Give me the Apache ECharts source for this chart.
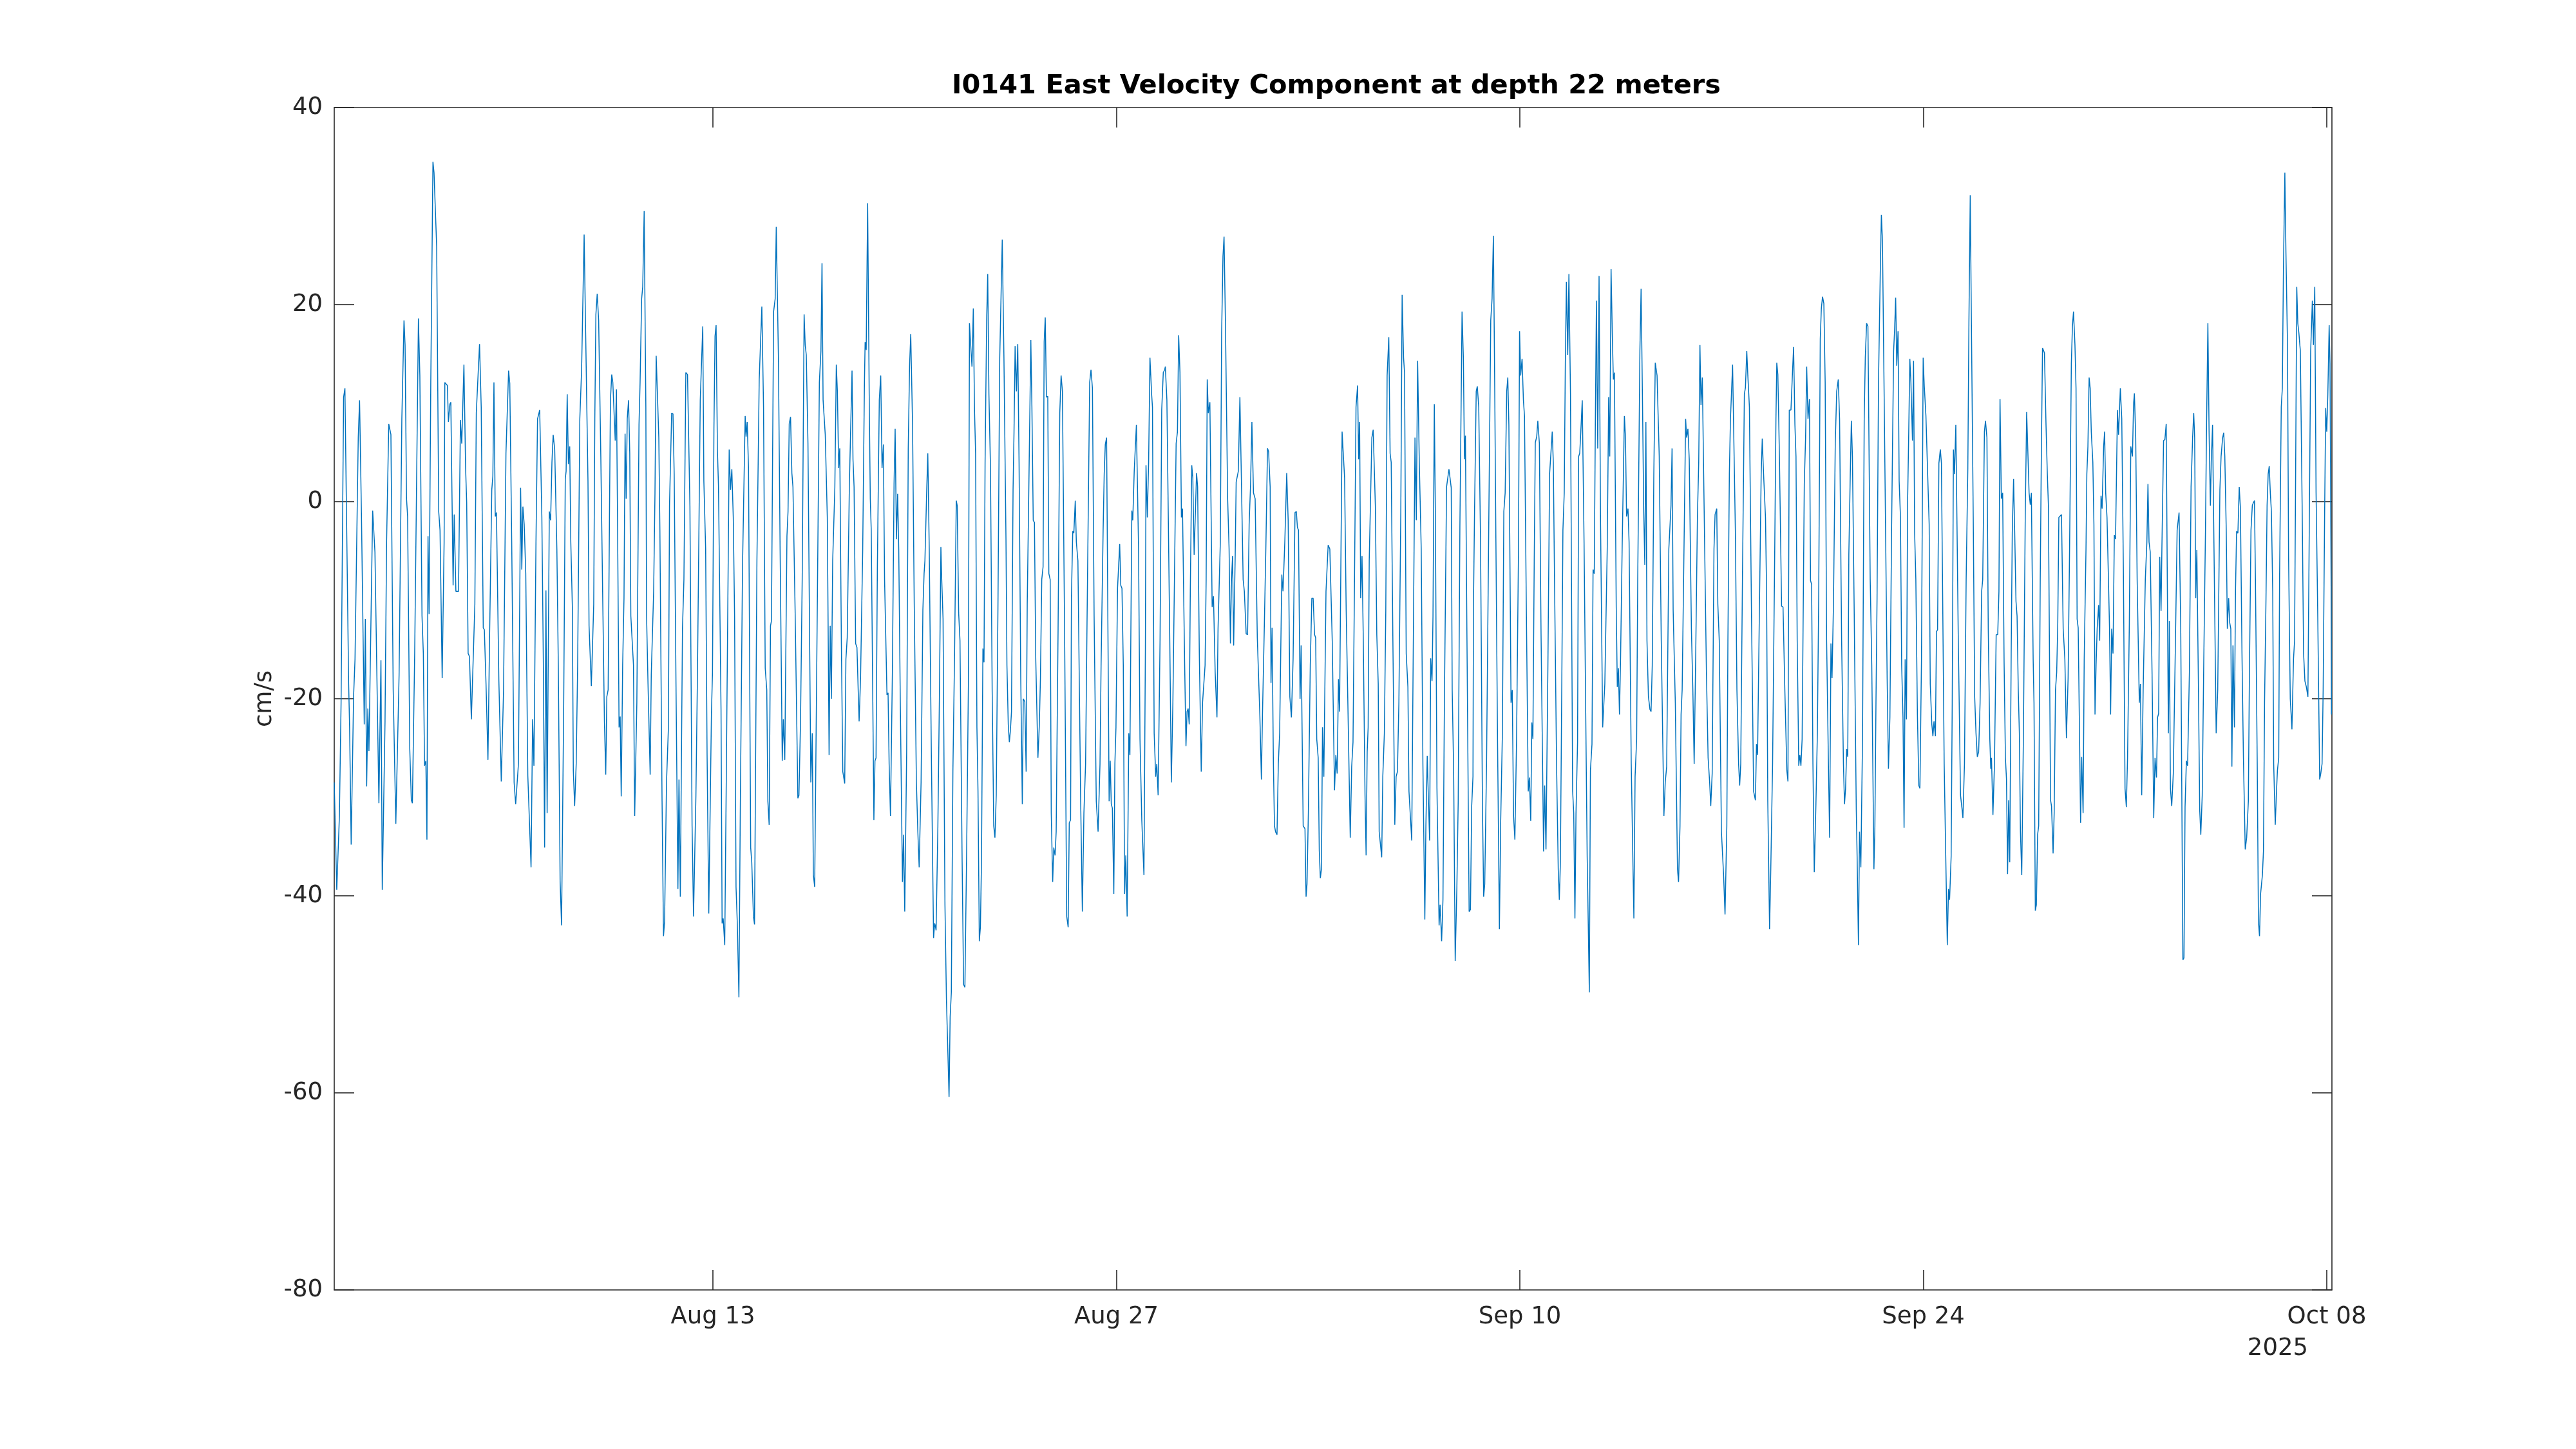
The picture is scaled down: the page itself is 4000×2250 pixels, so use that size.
<!DOCTYPE html>
<html>
<head>
<meta charset="utf-8">
<script src="https://cdn.jsdelivr.net/npm/echarts@6.0.0/dist/echarts.min.js"></script>
<style>
  html, body { margin: 0; padding: 0; background: #ffffff; }
  #main { width: 4000px; height: 2250px; }
</style>
</head>
<body>
<div id="main"></div>
<script>
// ---------------- DATA ----------------
const chartTitle = 'I0141 East Velocity Component at depth 22 meters';
const yAxisName = 'cm/s';
const yTickValues = [-80, -60, -40, -20, 0, 20, 40];
const xTickDates = ['2025-08-13', '2025-08-27', '2025-09-10', '2025-09-24', '2025-10-08'];
const xTickLabels = ['Aug 13', 'Aug 27', 'Sep 10', 'Sep 24', 'Oct 08'];
const yearLabel = '2025';
// record start (UTC) and span in hours
const recordStartUTC = '2025-07-30T20:41:00Z';
const recordSpanHours = 1663.6;
// [hours since record start, east velocity in cm/s]
const eastVelocitySamples = [
[0.0,-28.5],[2.1,-39.4],[4.3,-31.9],[5.7,-20.4],[7.8,10.6],[8.9,11.5],[12.0,-18.5],[12.8,-22.9],[14.1,-34.8],[16.1,-19.8],[17.3,-16],[20.0,6.5],[21.1,10.3],[22.7,-1.6],[25.0,-22.6],[25.9,-11.9],[27.0,-28.9],[28.0,-21],[28.9,-25.3],[32.0,-0.9],[33.9,-5.1],[37.2,-30.6],[38.9,-16.1],[40.0,-39.4],[42.3,-22.3],[43.6,-4.1],[45.4,7.9],[46.3,7.9],[47.2,6.8],[49.1,-19.1],[51.3,-32.7],[54.0,-17.6],[56.3,8.4],[58.1,18.4],[59.0,15.9],[60.2,0.3],[61.1,-1.5],[62.9,-25.1],[64.2,-30.3],[65.1,-30.6],[67.0,-15.4],[70.1,18.6],[71.3,12.8],[73.1,-11.6],[74.2,-15.4],[75.2,-26.8],[76.3,-26.3],[77.2,-34.3],[78.1,-3.5],[79.0,-11.4],[80.4,12.1],[82.2,34.5],[83.1,33.4],[85.3,25.9],[87.0,-1],[88.1,-2.9],[89.9,-17.9],[91.5,-4.1],[92.1,12.1],[94.2,11.8],[95.1,8.1],[96.3,9.9],[97.1,10.1],[99.0,-8.5],[99.9,-1.3],[101.3,-9.1],[103.5,-9.1],[105.1,8.3],[106.2,5.9],[108.0,13.9],[109.4,3.4],[110.3,-0.1],[111.5,-15.4],[112.6,-15.7],[114.2,-22.1],[117.1,-10.4],[118.3,9],[121.0,16],[122.4,9.6],[124.1,-12.8],[125.0,-13],[126.4,-18.5],[128.0,-26.2],[129.4,-13.5],[131.2,1.2],[132.1,2.6],[133.0,12.1],[134.1,-1.5],[135.1,-1.1],[137.1,-18.2],[139.1,-28.4],[141.0,-19.1],[143.0,4.9],[145.2,13.3],[146.2,12],[147.8,-4.1],[149.8,-28.5],[151.1,-30.7],[153.4,-26.6],[155.2,1.4],[156.2,-6.9],[157.1,-0.5],[158.2,-2.3],[159.5,-7.3],[161.2,-27.8],[163.9,-37.1],[165.2,-22.1],[166.3,-26.8],[168.0,-4.1],[169.3,8.4],[171.1,9.3],[172.9,-1.6],[174.1,-16],[175.2,-35.1],[176.3,-9],[177.3,-31.6],[179.1,-1],[180.2,-1.9],[181.3,4],[182.3,6.8],[183.6,5.3],[185.4,-4.8],[186.6,-16.6],[188.1,-38.5],[189.3,-43],[191.1,-20.4],[192.4,2.3],[193.1,3.1],[194.0,10.9],[195.0,3.8],[196.1,5.6],[197.0,-4.1],[198.3,-10.7],[199.1,-27.3],[200.2,-30.9],[201.5,-26.6],[202.7,-16.6],[204.5,8.4],[206.0,13.4],[208.1,27.1],
[211.3,2.1],[212.2,-12.6],[213.1,-12.7],[214.1,-18.7],[216.1,-10.4],[217.0,8.4],[217.9,19],[219.0,21.1],[220.2,18.4],[222.0,4.6],[223.8,-11.6],[225.0,-22.3],[226.1,-27.7],[227.0,-19.8],[228.1,-19.1],[229.2,-1.6],[230.0,10.3],[231.1,12.9],[232.0,12.1],[234.0,6.2],[235.0,11.4],[235.9,-1.6],[237.2,-22.9],[238.1,-21.8],[239.0,-29.9],[240.2,-16.6],[241.3,-9.8],[242.2,6.9],[243.1,0.3],[244.0,8.4],[245.1,10.3],[246.1,4.9],[247.0,-11.6],[249.2,-16.6],[250.2,-31.9],[252.0,-20.4],[253.8,7.8],[254.7,12.1],[256.0,20.6],[256.9,21.8],[258.1,29.5],[259.5,9.6],[260.1,-11.6],[261.3,-18.5],[263.1,-27.7],[264.0,-17.6],[266.0,-9.1],[267.1,0.9],[268.1,14.8],[270.3,6.5],[271.2,-2.9],[273.0,-30.4],[274.2,-44.1],[275.1,-42.6],[276.7,-28.5],[278.3,-22.9],[279.2,-0.4],[281.0,9],[282.1,8.9],[283.1,2.8],[284.6,-18.5],[286.2,-39.3],[287.1,-28.2],[288.2,-40.1],[290.0,-12.9],[291.2,-7.9],[292.8,13.1],[294.2,12.9],[296.2,-0.4],[298.0,-32.9],[299.2,-42.1],[301.2,-29.8],[302.5,-17.3],[304.8,10.3],[306.9,17.8],[307.8,2.1],[309.3,-4.8],[310.5,-25.7],[311.9,-41.8],[314.1,-21.6],[315.0,-17.3],[316.2,7.4],[317.1,16.8],[318.0,17.9],[319.1,5.3],[320.0,1.5],[322.1,-21],[323.0,-42.8],[323.9,-42.3],[325.2,-45],[326.6,-26.6],[328.9,5.3],[330.0,1.2],[331.1,3.3],[332.3,-1.6],[333.4,-11.6],[334.6,-39.1],[335.7,-42.9],[337.0,-50.3],[338.2,-30.4],[340.0,-6.6],[342.2,8.7],[343.0,6.6],[343.9,8.1],[345.0,3.4],[346.8,-35.1],[347.7,-36.6],[349.1,-42.1],[350.0,-42.9],[352.0,-6],[353.9,12.4],[356.1,19.8],[357.5,9.6],[358.9,-16.9],[360.2,-19.1],[361.1,-30.4],[362.2,-32.8],[363.3,-12.6],[364.1,-12.1],[365.9,19.3],[367.2,20.6],[368.1,27.9],[369.9,14.6],[371.3,-4.8],[373.1,-26.3],[374.0,-22.1],[375.2,-26.2],[377.0,-3.5],[377.9,-1],[378.9,7.9],[380.0,8.6],[381.1,2.9],[382.0,1.5],[383.8,-11],[386.1,-30.1],[387.0,-29.8],[388.3,-22.3],[389.7,-7.9],[391.3,19],[392.2,15.9],[393.1,14.9],[394.5,5.9],[396.9,-28.5],[398.1,-23.5],[399.0,-37.9],[400.1,-39.1],[402.2,-11.6],[404.0,12.1],[405.3,15.3],[406.2,24.2],[407.1,10.3],[408.9,6.8],[410.6,-1.6],[412.1,-25.7],[413.0,-12.6],[414.0,-20],[415.1,-6],[416.9,1.5],[418.1,13.9],[419.0,11.2],[420.1,3.4],[421.0,5.4],[422.3,-14.1],[423.5,-27.4],
[425.1,-28.6],[426.1,-16],[427.2,-13.8],[429.0,1.8],[431.2,13.3],[432.0,4.3],[432.9,1.5],[434.2,-14.4],[435.3,-14.8],[437.1,-22.3],[438.3,-17.9],[440.1,-4.8],[441.5,11.8],[442.1,16.2],[443.0,15.4],[444.2,30.3],[445.5,10.9],[446.4,0.3],[447.2,-2.9],[449.4,-32.3],[450.3,-26.3],[451.2,-26],[452.3,-6.6],[453.9,10.3],[455.1,12.8],[456.2,3.4],[457.3,5.8],[458.3,-7.9],[460.3,-19.6],[461.2,-19.4],[462.1,-26.6],[463.2,-31.9],[464.8,-17.3],[466.2,1.8],[467.1,7.4],[468.2,-3.8],[469.2,0.8],[470.1,-4.8],[471.4,-20.4],[473.2,-38.6],[474.1,-33.8],[475.1,-41.6],[476.7,-25.4],[478.0,5.3],[479.1,13.7],[480.1,17],[481.6,7.8],[483.0,-10.4],[484.8,-28.5],[486.0,-33.5],[487.1,-37.1],[488.7,-28.5],[490.2,-11],[491.2,-7.3],[491.9,-6],[493.4,1.2],[494.3,4.9],[495.5,-4.8],[497.3,-26],[499.1,-44.3],[500.0,-42.8],[500.5,-43],[501.2,-43.5],[502.7,-32.9],[503.9,-20.4],[505.2,-4.6],[505.9,-7.9],[507.0,-11.9],[508.6,-41],[509.8,-50.4],[512.0,-60.4],[512.9,-52.3],[513.9,-49.8],[515.2,-27.3],[516.6,-15.4],[518.0,0.1],[518.8,-0.4],[520.0,-11.3],[521.1,-14.1],[522.9,-36.6],[524.1,-49],[525.2,-49.3],[526.6,-36],[528.1,-18.5],[529.0,18.1],[530.0,15.9],[531.1,13.7],[532.2,19.6],[533.2,9.3],[534.1,4.9],[535.2,-22.9],[536.1,-29.4],[537.2,-44.6],[538.1,-43.2],[539.0,-36.6],[540.2,-14.9],[541.1,-16.3],[542.0,4],[543.3,18.4],[544.2,23.1],[545.2,10.9],[546.5,3.4],[547.9,-19.1],[549.2,-32.9],[550.2,-34.1],[551.3,-29.8],[552.7,-11],[554.2,14.6],[556.3,26.6],[557.7,14.6],[559.4,-3.8],[560.2,-16.6],[561.3,-22.6],[562.2,-24.4],[563.1,-23.2],[564.0,-21.3],[565.3,1.2],[566.1,7.1],[567.0,15.8],[568.1,11.2],[569.2,16],[570.3,4],[571.7,-17.9],[573.0,-30.7],[573.8,-20],[575.1,-20.3],[576.2,-27.4],[577.1,-10.4],[578.1,-1.6],[580.1,16.4],[581.0,9.6],[582.1,-1.9],[583.1,-2.1],[584.2,-16],[586.0,-26],[587.2,-22.6],[588.1,-17.9],[589.2,-7.9],[590.3,-6.6],[591.2,16.2],[592.1,18.7],[593.1,10.6],[594.2,10.7],[595.1,-7.3],[596.2,-7.9],[597.1,-31.6],[598.3,-38.6],[599.2,-35.1],[600.3,-35.9],[601.2,-33.5],[602.8,-12.9],[604.2,9],[605.3,12.8],[606.4,11.2],[608.2,-12.9],[610.0,-42.1],[611.2,-43.2],[612.1,-32.6],[613.2,-32.3],[613.9,-9.8],[615.0,-3],[615.9,-3.2],[617.1,0.1],[618.0,-4.1],[619.3,-6],[621.6,-30.4],[623.0,-41.6],[624.3,-31.6],[625.7,-26.6],[626.9,-12.3],[629.1,12.1],[630.2,13.4],[631.4,11.5],[632.8,-11.6],[634.6,-30.4],[636.1,-33.5],[637.7,-26.6],[638.6,-16.6],
[640.3,-2.9],[641.2,2.8],[642.1,5.8],[643.2,6.5],[645.3,-30.4],[646.2,-26.3],[647.1,-30.7],[648.0,-31.1],[649.2,-39.8],[650.1,-26.6],[651.0,-22.9],[652.3,-8.8],[654.1,-4.3],[655.0,-8.5],[656.0,-8.8],[657.1,-16.6],[658.2,-39.8],[659.2,-35.9],[660.3,-42.1],[661.7,-23.5],[662.6,-25.7],[664.2,-0.9],[665.0,-1.9],[666.2,3.1],[668.0,7.8],[669.8,-4.8],[671.0,-24.1],[672.5,-32.3],[674.3,-37.9],[675.5,-14.8],[676.0,3.7],[677.1,-1.6],[678.2,4],[679.3,14.6],[680.7,10.9],[681.4,9.6],[682.8,-23.5],[684.1,-27.9],[685.0,-26.6],[686.1,-29.8],[687.7,-14.1],[689.1,9.3],[690.4,13.1],[691.6,13.4],[692.1,13.7],[693.4,10.3],[695.7,-12.9],[697.1,-28.5],[698.4,-20.4],[700.2,-2.9],[701.1,5.9],[702.2,7.1],[703.2,16.9],[704.3,13.1],[705.5,-1.6],[706.4,-0.7],[708.2,-16.6],[709.3,-24.8],[710.2,-21.3],[711.1,-21],[712.0,-22.6],[712.9,-9.1],[714.1,3.7],[715.0,2.4],[716.1,-5.4],[718.1,2.9],[719.0,1.5],[720.4,-15.4],[722.0,-27.4],[723.1,-20.4],[725.2,-16.6],[726.1,-7.9],[727.0,12.4],[727.9,9],[729.2,10.1],[731.1,-10.7],[732.2,-9.6],[733.6,-17.3],[735.1,-21.9],[736.0,-12.9],[737.9,-4.1],[739.0,17.1],[740.1,24.9],[741.0,26.9],[742.2,17.8],[744.0,0.3],[745.2,-4.8],[746.3,-14.4],[747.2,-7.9],[748.1,-5.5],[749.0,-14.6],[750.3,-5.4],[751.1,2],[752.9,3.1],[754.2,10.6],[755.6,1.2],[756.9,-7.9],[757.9,-9.1],[759.4,-13.4],[760.6,-13.5],[761.9,-2.3],[763.1,1.8],[764.2,8.1],[765.5,0.9],[766.9,0.3],[768.7,-13.8],[770.8,-21.6],[772.1,-28.2],[773.0,-21.6],[774.4,-13.5],[775.8,-4.8],[777.2,5.4],[778.1,5.1],[779.4,1.5],[780.1,-18.4],[781.0,-12.8],[782.1,-26.6],[783.0,-32.9],[783.9,-33.5],[785.1,-33.8],[786.2,-26.6],[787.3,-23.5],[789.1,-7.4],[790.1,-9.1],[791.6,-4.1],[793.2,2.9],[794.4,-1.9],[795.8,-19.8],[797.1,-21.9],[798.5,-16],[800.1,-1.1],[801.2,-1],[802.1,-2.6],[803.0,-2.9],[804.3,-20],[805.2,-14.6],[806.9,-32.9],[808.4,-33.2],[809.3,-40.1],[810.1,-38.8],[811.2,-31.6],[812.8,-16.6],[814.1,-9.8],[815.2,-9.8],[816.4,-13.5],[817.3,-13.8],[818.2,-24.1],[819.4,-26],[820.3,-35.4],[821.2,-38.2],[822.1,-37.3],[823.0,-22.9],[824.1,-27.9],[825.9,-9.1],[827.7,-4.4],[829.1,-4.8],[831.1,-14.1],[833.0,-29.3],[834.1,-25.7],[835.2,-27.6],[836.3,-18],[837.2,-21.3],[838.4,-4.8],[839.3,7.1],[840.2,7],[841.4,2.4],[842.7,-11],[844.1,-20.4],[846.1,-34.1],[847.3,-26.9],[848.4,-24.4],[849.5,-9.8],[850.9,9.6],[852.2,11.8],[853.1,4.3],
[853.9,8.1],[854.8,-9.8],[855.9,-5.5],[856.9,-13.5],[858.4,-29.8],[859.3,-35.9],[860.2,-25.4],[861.0,-22.9],[861.9,-6],[864.1,6.5],[865.2,7.3],[867.0,-0.4],[868.2,-13.5],[869.4,-18.5],[870.2,-33.5],[871.2,-33.4],[872.3,-36.1],[873.2,-27.9],[874.5,-23.5],[875.7,-11],[876.8,12.8],[878.2,16.7],[879.3,4.9],[880.2,4],[881.6,-14.1],[883.2,-32.8],[884.3,-27.9],[885.4,-27.4],[886.6,-20.4],[888.2,-1],[889.3,21],[890.5,14.6],[891.3,13.1],[892.7,-15.4],[894.1,-18.8],[895.0,-29.4],[897.3,-34.4],[898.2,-20.4],[900.0,6.5],[901.1,-1.9],[902.2,14.3],[903.6,4],[905.2,-4.8],[906.6,-26.6],[908.2,-42.4],[909.1,-32.9],[910.2,-25.8],[911.1,-29.8],[912.2,-34.4],[913.1,-15.9],[914.2,-18.2],[915.0,-11.6],[916.1,9.9],[917.0,-1.6],[918.3,-29.1],[920.1,-43],[920.9,-40.9],[922.2,-44.6],[923.3,-40.4],[924.5,-20.4],[926.3,1.5],[927.2,1.6],[928.3,3.3],[930.2,1.4],[931.0,-19.1],[932.2,-27.3],[933.5,-46.6],[934.9,-39.1],[936.0,-30.4],[937.4,-2.6],[939.2,19.3],[940.3,14.6],[941.2,4.3],[942.0,6.7],[943.3,-14.1],[945.1,-41.6],[946.2,-41.4],[947.2,-31],[948.3,-27.9],[948.7,-10.7],[949.6,-1],[951.0,11.2],[951.9,11.7],[953.1,9.6],[954.6,-4.1],[956.2,-31],[957.2,-40.1],[958.1,-38.8],[959.6,-26.6],[961.5,-1.6],[963.1,18.4],[964.2,20.6],[965.3,27],[966.4,11.8],[967.4,-4.1],[968.7,-23.5],[970.3,-43.4],[971.4,-32.3],[972.8,-23.5],[974.0,-1],[975.1,0.9],[976.4,11.2],[977.3,12.6],[978.2,7.8],[980.0,-20.4],[981.0,-19.1],[982.1,-31.9],[983.2,-34.3],[984.6,-24.1],[986.2,-4.8],[987.1,17.3],[988.0,12.8],[989.2,14.5],[990.3,10.3],[991.2,8.7],[992.8,-11.6],[994.3,-29.4],[995.3,-28],[996.4,-32.4],[997.3,-22.4],[998.2,-24.1],[999.3,-6],[1000.2,6],[1001.4,6.6],[1002.3,8.2],[1003.6,5.9],[1005.0,-13.5],[1007.1,-35.5],[1008.0,-28.8],[1009.1,-35.3],[1010.7,-16.6],[1012.1,2.8],[1013.4,5.3],[1014.3,7.1],[1015.2,4],[1016.2,-7.9],[1017.9,-26.6],[1019.3,-37.3],[1020.2,-40.4],[1021.1,-36.6],[1022.3,-17.9],[1023.2,-2.9],[1024.3,0.9],[1025.2,14],[1026.1,22.3],[1027.2,14.9],[1028.2,23.1],[1029.5,10.9],[1031.3,-29.4],[1032.2,-31.6],[1033.2,-42.3],[1034.1,-31.6],[1035.4,-24.4],[1036.3,4.6],[1037.2,4.9],[1038.1,7.1],[1039.3,10.3],[1040.8,-4.1],[1042.2,-21.6],[1043.4,-36],[1045.2,-49.8],[1046.1,-27.3],[1047.4,-24.6],[1048.3,-6.9],[1049.3,-7.3],[1050.2,7.8],[1051.1,20.4],[1052.2,5.4],[1053.3,22.9],[1054.5,-1.6],[1056.3,-22.9],[1058.1,-18.5],[1060.1,-4.8],[1061.3,10.6],[1062.2,4.6],[1063.3,23.6],[1064.3,17.1],[1065.2,12.4],[1066.1,13.1],[1067.6,-10.7],
[1068.5,-18.8],[1069.4,-16.9],[1070.3,-21.6],[1071.2,-16],[1072.6,-4.1],[1074.4,8.7],[1075.3,6.5],[1076.2,-1.5],[1077.4,-0.7],[1078.3,-4.1],[1080.1,-26.6],[1082.3,-42.3],[1083.3,-27.9],[1084.6,-24.1],[1085.5,-7.9],[1087.3,15.3],[1088.3,21.6],[1089.4,10.9],[1090.5,-1],[1091.4,-6.4],[1092.3,8.1],[1093.2,-14.1],[1094.4,-19.8],[1095.7,-21.1],[1096.6,-21.3],[1097.6,-16.6],[1098.9,2.8],[1100.1,14.1],[1101.6,12.8],[1103.4,4.6],[1105.1,-14.1],[1107.3,-31.9],[1108.4,-28.5],[1109.6,-26.9],[1111.4,-4.8],[1113.2,-0.4],[1114.1,5.4],[1115.0,-11],[1116.8,-20.4],[1118.6,-37.3],[1119.5,-38.6],[1120.7,-32.9],[1121.6,-21.6],[1122.5,-19.1],[1123.9,-6],[1125.4,8.4],[1126.2,6.5],[1127.3,7.4],[1128.4,4.3],[1130.2,-12.9],[1131.4,-19.1],[1132.5,-26.6],[1133.8,-15.4],[1135.2,-1.6],[1136.3,4],[1137.3,15.9],[1138.2,9.8],[1139.3,12.6],[1140.9,-1.6],[1142.7,-17.3],[1144.1,-26],[1145.4,-28.5],[1146.3,-30.9],[1147.5,-27.6],[1149.0,-4.8],[1149.9,-1.3],[1151.3,-0.7],[1152.2,-10.4],[1153.4,-14.1],[1155.2,-33.5],[1157.0,-37.9],[1158.2,-41.9],[1159.7,-32.9],[1160.6,-14.1],[1161.8,2.8],[1162.7,8.3],[1163.6,8.3],[1164.5,13.9],[1165.4,13.8],[1166.8,-2.9],[1168.1,-19.1],[1169.5,-26.6],[1170.4,-28.8],[1171.3,-26.6],[1172.7,-7.9],[1174.3,10.9],[1175.2,11.6],[1176.3,15.3],[1177.2,12.8],[1178.5,9.6],[1180.2,-11],[1182.0,-29.4],[1183.5,-30.3],[1184.4,-24.6],[1185.3,-25.7],[1186.5,-14.1],[1188.3,2.8],[1189.2,6.4],[1190.3,2.8],[1191.9,-1.6],[1192.8,-9.1],[1193.8,-30.4],[1195.3,-43.4],[1196.3,-37.3],[1197.8,-26.6],[1199.6,-4.8],[1200.6,8.4],[1201.3,14.1],[1202.2,12.9],[1203.5,4.6],[1205.3,-10.6],[1206.5,-10.7],[1208.0,-19.1],[1209.7,-27.3],[1210.6,-28.4],[1211.7,9.3],[1213.1,9.3],[1214.2,12.6],[1215.3,15.7],[1216.4,7.8],[1217.3,4.6],[1218.3,-14.1],[1219.6,-26.8],[1220.5,-25.7],[1221.4,-26.8],[1222.4,-24.1],[1224.2,1.8],[1225.3,6.5],[1226.2,13.7],[1227.3,8.4],[1228.5,10.4],[1229.4,-8],[1230.3,-8.4],[1231.4,-26.6],[1232.5,-37.6],[1233.9,-30.7],[1235.1,-23.5],[1236.2,-9.8],[1237.5,16.5],[1238.4,19.6],[1239.4,20.8],[1240.5,20.1],[1241.6,12.1],[1242.8,-14.1],[1244.3,-26.6],[1245.3,-34.1],[1246.4,-14.4],[1247.3,-17.9],[1248.5,-10.4],[1250.0,5.9],[1251.2,11.2],[1252.5,12.4],[1253.6,8.4],[1255.3,-14.1],[1256.8,-26.6],[1257.7,-30.7],[1258.6,-29.1],[1259.5,-25.1],[1260.4,-25.9],[1261.3,-5.4],[1262.5,2.8],[1263.4,8.2],[1264.3,4.6],[1265.7,-10.4],[1267.5,-31.3],[1268.2,-36],[1269.3,-45],[1270.2,-33.5],[1271.3,-37.1],[1272.7,-24.1],[1274.1,8.4],[1275.0,14.6],[1276.1,18.1],[1277.2,17.8],[1279.1,-7.9],[1280.4,-16.6],[1282.2,-37.3],
[1283.0,-32.9],[1283.9,-20.4],[1284.8,-9.8],[1286.0,12.1],[1287.5,23.4],[1288.4,29.1],[1289.3,26.5],[1290.7,10.9],[1292.0,-4.1],[1293.2,-17.9],[1294.3,-27.1],[1295.5,-21.9],[1296.9,-2.9],[1298.6,15.3],[1299.4,17.4],[1300.3,20.7],[1301.2,13.8],[1302.3,17.3],[1303.2,2.1],[1304.3,-1.6],[1305.3,-16.6],[1306.4,-21.9],[1307.3,-33.1],[1308.2,-16],[1309.3,-22.1],[1310.2,-0.4],[1311.2,7.1],[1312.1,14.5],[1313.0,12.1],[1314.3,6.2],[1315.2,14.3],[1316.1,-3.2],[1317.1,-7.9],[1318.4,-21.6],[1319.6,-28.8],[1320.5,-29.1],[1321.8,-16],[1323.2,14.6],[1324.1,11.8],[1325.5,8.7],[1326.8,3.4],[1328.2,-2.3],[1329.1,-18.5],[1330.4,-22.6],[1331.3,-23.8],[1332.2,-22.3],[1333.4,-23.8],[1334.3,-13.2],[1335.2,-13],[1336.3,3.9],[1337.5,5.3],[1338.4,3.9],[1339.3,-7.9],[1340.7,-26.6],[1342.0,-36],[1343.3,-45],[1344.3,-39.3],[1345.2,-40.4],[1346.5,-36],[1347.4,-20.4],[1348.4,5.3],[1349.3,2.8],[1350.4,7.8],[1351.3,-1.6],[1352.4,-13.5],[1353.3,-13.5],[1354.3,-29.8],[1355.4,-31],[1356.3,-32.1],[1357.6,-26.6],[1359.0,-7.9],[1360.4,3.4],[1361.3,18.1],[1362.4,31.1],[1363.5,16.5],[1364.9,-1.6],[1366.1,-19.8],[1367.2,-23.5],[1368.3,-25.9],[1369.4,-25.4],[1370.6,-20.4],[1371.9,-9.1],[1372.8,-7.9],[1374.2,7.1],[1375.1,8.2],[1376.3,6.5],[1377.4,-12.9],[1378.7,-24.1],[1379.5,-27.1],[1380.1,-26],[1381.3,-31.8],[1382.6,-26.6],[1384.0,-13.5],[1385.3,-13.5],[1386.3,-9.1],[1387.2,10.4],[1388.3,0.3],[1389.4,0.9],[1390.6,-16.3],[1391.7,-26],[1392.6,-28.2],[1393.5,-37.8],[1394.4,-30.3],[1395.3,-36.6],[1396.5,-15.4],[1397.4,-3.2],[1398.5,2.3],[1399.4,-2.9],[1400.5,-10.1],[1401.4,-11.6],[1402.4,-19.1],[1403.3,-23.5],[1404.2,-33.5],[1405.3,-37.9],[1406.7,-23.5],[1408.2,-1.6],[1409.4,9.1],[1410.3,9],[1411.4,0.9],[1412.4,-0.3],[1413.3,0.9],[1414.8,-16],[1415.5,-20.4],[1416.6,-41.5],[1417.5,-40.9],[1418.5,-33.8],[1419.4,-32.9],[1420.7,-7.9],[1421.6,4.6],[1422.6,15.6],[1424.2,15.1],[1425.5,7.8],[1426.6,2.8],[1427.5,-0.4],[1429.3,-30.3],[1430.1,-30.9],[1431.4,-35.7],[1432.3,-31.6],[1433.4,-19.1],[1434.4,-17.3],[1435.3,-12.3],[1436.2,-1.6],[1437.1,-1.5],[1438.4,-1.3],[1439.8,-12.9],[1441.2,-16],[1442.5,-24],[1443.9,-17.9],[1445.2,-4.1],[1446.6,14],[1447.5,17.8],[1448.4,19.3],[1449.6,15.9],[1450.5,11.5],[1451.4,-11.9],[1452.3,-12.8],[1453.4,-23.5],[1454.3,-32.6],[1455.2,-25.9],[1456.4,-31.6],[1457.3,-16],[1458.8,-4.8],[1459.5,2.8],[1460.4,5.6],[1461.4,12.6],[1462.3,11.5],[1463.2,7.1],[1464.5,4],[1465.4,-2.3],[1466.3,-21.6],[1467.2,-16.6],[1468.1,-12.9],[1469.3,-10.5],[1470.2,-14.1],[1471.3,0.6],[1472.2,-0.7],[1473.5,5.6],[1474.3,7.1],[1475.2,0.9],[1476.3,-1.6],[1477.5,-7.9],[1478.4,-12.9],[1479.3,-21.6],[1480.2,-12.9],[1481.3,-15.4],[1482.4,-3.4],[1483.4,-3.8],[1485.0,9.3],[1485.9,6.8],[1487.4,11.5],[1488.6,8.4],[1489.9,-6.6],[1491.3,-29.1],[1492.4,-31],[1493.4,-26],[1494.9,-12.3],[1496.1,5.6],
[1497.5,4.6],[1498.4,9.9],[1499.1,11],[1500.2,6.5],[1501.4,-7.9],[1503.2,-20.4],[1504.1,-18.5],[1505.2,-29.8],[1506.4,-19.1],[1508.2,-7.9],[1509.5,-4.1],[1510.4,1.8],[1511.3,-4.1],[1512.3,-5.1],[1513.8,-17.3],[1515.2,-32.1],[1516.3,-26],[1517.5,-28],[1518.4,-21.9],[1519.3,-21.5],[1520.2,-5.6],[1521.3,-11.1],[1522.0,-4.8],[1523.4,6.2],[1524.5,6.3],[1525.6,7.9],[1526.5,-7.9],[1527.4,-23.5],[1528.2,-12.1],[1529.1,-29.1],[1530.2,-30.9],[1531.5,-27.6],[1533.3,-14.1],[1534.7,-2.9],[1536.3,-1.1],[1537.7,-12.9],[1539.5,-46.5],[1540.4,-46.3],[1541.3,-31],[1542.4,-26.3],[1543.4,-26.8],[1544.9,-17.3],[1546.3,1.5],[1547.6,6.5],[1548.5,9],[1549.3,6.5],[1550.2,-9.8],[1551.1,-4.9],[1552.4,-18.5],[1553.5,-31.3],[1554.4,-33.8],[1555.6,-29.8],[1556.9,-16],[1558.3,-2.9],[1559.2,7.8],[1560.3,18.1],[1561.3,7.1],[1562.4,-0.4],[1563.1,4],[1564.2,7.8],[1565.4,-4.8],[1567.2,-23.5],[1568.5,-19.1],[1570.3,1.2],[1571.3,4.6],[1572.6,6.5],[1573.5,7],[1574.4,4.6],[1575.6,-2.9],[1576.5,-12.9],[1577.6,-9.8],[1578.5,-12.3],[1579.4,-12.9],[1580.3,-26.9],[1581.2,-14.6],[1582.4,-22.9],[1583.3,-9.1],[1584.2,-3],[1585.3,-3.2],[1586.4,1.5],[1587.4,-0.7],[1588.7,-15.4],[1589.9,-26],[1591.4,-35.3],[1592.6,-34.1],[1594.0,-30.4],[1594.9,-17.3],[1596.2,-2.9],[1597.3,-0.4],[1598.2,-0.1],[1599.1,0.1],[1599.9,-7.9],[1601.4,-26.6],[1602.4,-42.6],[1603.3,-44.1],[1604.2,-39.8],[1605.7,-37.9],[1606.6,-35.4],[1607.5,-20.4],[1608.7,-9.8],[1609.6,-0.4],[1610.5,2.8],[1611.4,3.6],[1612.3,0.9],[1613.2,-1],[1614.3,-9.1],[1615.1,-26.6],[1616.4,-32.8],[1617.3,-29.8],[1618.2,-27.3],[1619.3,-26],[1620.0,-7.9],[1621.4,9.6],[1622.3,11.5],[1623.2,23.4],[1624.4,33.4],[1625.3,25.3],[1626.6,15.9],[1627.5,-5.4],[1628.9,-20],[1630.3,-23.1],[1631.6,-16],[1632.5,-14.1],[1633.4,3.4],[1634.3,21.8],[1635.2,18.1],[1636.1,17.1],[1637.3,15.3],[1638.8,-0.4],[1640.0,-15.4],[1641.1,-18.2],[1642.3,-18.8],[1643.6,-19.8],[1644.6,-4.8],[1645.9,15.3],[1647.3,20.4],[1648.2,15.9],[1649.3,21.8],[1650.4,0.9],[1651.8,-11.6],[1653.4,-28.2],[1654.3,-27.6],[1655.4,-26.6],[1656.3,-19.1],[1657.5,-1.6],[1658.4,9.5],[1659.3,7.1],[1660.2,10.9],[1661.3,17.9],[1662.0,14],[1662.9,-7.9],[1663.2,-21.6]
];

// ---------------- CHART ----------------
const HOUR = 3600 * 1000;
const t0 = Date.parse(recordStartUTC);
const xMin = t0;
const xMax = t0 + recordSpanHours * HOUR;
const xTickValues = xTickDates.map(d => Date.parse(d + 'T00:00:00Z'));
const seriesData = eastVelocitySamples.map(p => [t0 + p[0] * HOUR, p[1]]);

const axisColor = '#262626';
const fontFamily = '"DejaVu Sans", "Liberation Sans", sans-serif';

function xLabelFormatter(value) {
  const idx = xTickValues.findIndex(v => Math.abs(v - value) < 60000);
  return idx >= 0 ? xTickLabels[idx] : '';
}

const chart = echarts.init(document.getElementById('main'), null, { renderer: 'canvas', width: 4000, height: 2250 });

const commonAxisLine = { show: true, onZero: false, lineStyle: { color: axisColor, width: 1.6 } };
const commonTick = { show: true, inside: true, length: 31, lineStyle: { color: axisColor, width: 1.6 } };

chart.setOption({
  animation: false,
  backgroundColor: '#ffffff',
  title: {
    text: chartTitle,
    left: 2070,
    top: 108,
    textAlign: 'center',
    textStyle: { fontFamily: fontFamily, fontWeight: 'bold', fontSize: 41.5, color: '#000000' }
  },
  grid: { left: 519, right: 379, top: 167, bottom: 247, containLabel: false },
  xAxis: [
    {
      type: 'value', min: xMin, max: xMax, position: 'bottom', scale: true,
      axisLine: commonAxisLine,
      axisTick: Object.assign({}, commonTick, { customValues: xTickValues }),
      axisLabel: {
        customValues: xTickValues, formatter: xLabelFormatter,
        fontFamily: fontFamily, fontSize: 37, color: axisColor, margin: 24
      },
      splitLine: { show: false }, minorTick: { show: false }
    },
    {
      type: 'value', min: xMin, max: xMax, position: 'top', scale: true,
      axisLine: commonAxisLine,
      axisTick: Object.assign({}, commonTick, { customValues: xTickValues }),
      axisLabel: { show: false },
      splitLine: { show: false }
    }
  ],
  yAxis: [
    {
      type: 'value', min: -80, max: 40, interval: 20, position: 'left',
      axisLine: commonAxisLine,
      axisTick: commonTick,
      axisLabel: { fontFamily: fontFamily, fontSize: 37, color: axisColor, margin: 18 },
      splitLine: { show: false },
      name: yAxisName, nameLocation: 'middle', nameRotate: 90, nameGap: 88,
      nameTextStyle: { fontFamily: fontFamily, fontSize: 37, color: axisColor }
    },
    {
      type: 'value', min: -80, max: 40, interval: 20, position: 'right',
      axisLine: commonAxisLine,
      axisTick: commonTick,
      axisLabel: { show: false },
      splitLine: { show: false }
    }
  ],
  graphic: [
    {
      type: 'text', x: 3584, y: 2094, z: 100,
      style: { text: yearLabel, align: 'right', verticalAlign: 'middle', fontFamily: fontFamily, fontSize: 37, fill: axisColor }
    }
  ],
  series: [
    {
      type: 'line', xAxisIndex: 0, yAxisIndex: 0,
      data: seriesData,
      showSymbol: false, symbol: 'none', silent: true,
      lineStyle: { color: '#0072BD', width: 1.5 },
      clip: true
    }
  ]
});
</script>
</body>
</html>
